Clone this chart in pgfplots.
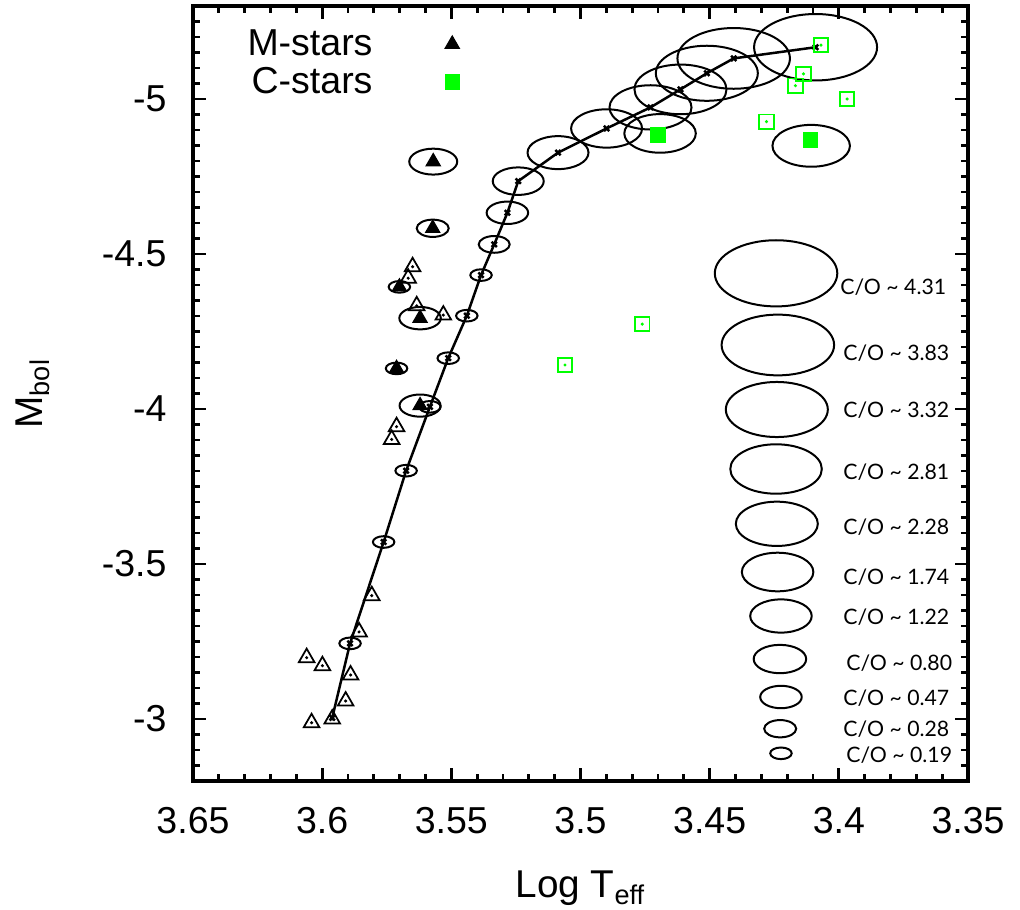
\documentclass[border=0pt]{standalone}
\usepackage{fontspec}
\setmainfont{Liberation Sans}
\newfontfamily\gill{Lato}
\usepackage{pgfplots}
\usepackage{pgfplotstable}
\pgfplotsset{compat=1.18}
\usetikzlibrary{calc}

\pgfdeclareplotmark{ellip}{%
  \pgfpathellipse{\pgfpointorigin}{\pgfqpoint{\pgfplotmarksize}{0pt}}{\pgfqpoint{0pt}{0.54\pgfplotmarksize}}%
  \pgfusepathqstroke}

% evolutionary track
\pgfplotstableread{
x y
3.5961 -3.004
3.5892 -3.244
3.5762 -3.571
3.5675 -3.801
3.5583 -4.007
3.5512 -4.164
3.5440 -4.301
3.5385 -4.432
3.5334 -4.531
3.5283 -4.633
3.5241 -4.735
3.5087 -4.827
3.4899 -4.905
3.4729 -4.973
3.4613 -5.031
3.4511 -5.083
3.4407 -5.131
3.4090 -5.167
}\track

% C/O ellipses along the track (s = half width in pt)
\pgfplotstableread{
x y s
3.5892 -3.244 4.3
3.5762 -3.571 4.3
3.5675 -3.801 4.3
3.5583 -4.007 4.3
3.5512 -4.164 4.3
3.5440 -4.301 4.3
3.5385 -4.432 4.3
3.5334 -4.531 6.2
3.5283 -4.633 8.3
3.5241 -4.735 10.2
3.5087 -4.827 12.2
3.4899 -4.905 14.2
3.4729 -4.973 16.4
3.4613 -5.031 18.4
3.4511 -5.083 20.4
3.4407 -5.131 22.5
3.4090 -5.167 24.6
}\trackell

% C/O ellipses around M-stars and C-stars
\pgfplotstableread{
x y s
3.5570 -4.798 9.6
3.5572 -4.583 6.4
3.5701 -4.394 4.3
3.5621 -4.293 8.3
3.5712 -4.131 4.3
3.5621 -4.011 8.2
3.4692 -4.889 14.3
3.4107 -4.849 15.5
}\starell

% size key ellipses
\pgfplotstableread{
x y s
3.4243 -4.4377 24.5
3.4236 -4.2065 22.5
3.4240 -3.9984 20.4
3.4243 -3.8065 18.3
3.4240 -3.6297 16.4
3.4237 -3.4742 14.3
3.4224 -3.3323 12.3
3.4228 -3.1935 10.5
3.4224 -3.0710 8.3
3.4227 -2.9687 6.4
3.4224 -2.8894 4.3
}\keyell

% M-stars with C/O (filled triangles)
\pgfplotstableread{
x y
3.5570 -4.798
3.5572 -4.583
3.5701 -4.394
3.5621 -4.293
3.5712 -4.131
3.5621 -4.011
}\mfill

% other M-stars (open triangles)
\pgfplotstableread{
x y
3.5650 -4.459
3.5667 -4.422
3.5634 -4.333
3.5531 -4.303
3.5712 -3.943
3.5731 -3.902
3.5808 -3.398
3.5857 -3.281
3.6060 -3.198
3.5999 -3.172
3.5890 -3.142
3.5909 -3.058
3.6041 -2.988
3.5961 -3.000
}\mopen

% C-stars with C/O (filled squares)
\pgfplotstableread{
x y
3.4700 -4.884
3.4109 -4.868
}\cfill

% other C-stars (open squares)
\pgfplotstableread{
x y
3.4069 -5.174
3.4137 -5.081
3.4168 -5.043
3.3968 -5.000
3.4280 -4.927
3.4761 -4.274
3.5060 -4.142
}\copen

\pgfplotsset{
  ellip plot/.style={only marks, mark=ellip, black, line width=0.8pt,
    scatter,
    visualization depends on={\thisrow{s}\as\msz},
    scatter/@pre marker code/.code={\scope[mark size=\msz pt]},
    scatter/@post marker code/.code={\endscope},
    forget plot},
  single mark legend/.style={legend image code/.code={\draw[##1] plot coordinates {(0pt,0pt)};}},
}

\begin{document}
\begin{tikzpicture}
\begin{axis}[
  scale only axis, width=310pt, height=310pt,
  xmin=3.35, xmax=3.65, ymin=-5.3, ymax=-2.8,
  x dir=reverse, y dir=reverse,
  xtick={3.35,3.4,3.45,3.5,3.55,3.6,3.65},
  ytick={-5,-4.5,-4,-3.5,-3},
  minor xtick={3.36,3.37,3.38,3.39,3.41,3.42,3.43,3.44,3.46,3.47,3.48,3.49,3.51,3.52,3.53,3.54,3.56,3.57,3.58,3.59,3.61,3.62,3.63,3.64},
  minor ytick={-5.25,-5.2,-5.15,-5.1,-5.05,-4.95,-4.9,-4.85,-4.8,-4.75,-4.7,-4.65,-4.6,-4.55,-4.45,-4.4,-4.35,-4.3,-4.25,-4.2,-4.15,-4.1,-4.05,-3.95,-3.9,-3.85,-3.8,-3.75,-3.7,-3.65,-3.6,-3.55,-3.45,-3.4,-3.35,-3.3,-3.25,-3.2,-3.15,-3.1,-3.05,-2.95,-2.9,-2.85},
  xtick pos=both, ytick pos=both,
  tick align=inside,
  major tick length=5.2pt, minor tick length=2.8pt,
  major tick style={draw=black, line width=1.1pt},
  minor tick style={draw=black, line width=1.1pt},
  axis line style={line width=1.6pt},
  /pgf/number format/assume math mode=true,
  ticklabel style={font=\fontsize{15}{18}\selectfont},
  xticklabel style={anchor=north, inner sep=0pt},
  xticklabel shift=10.4pt,
  yticklabel style={anchor=east, inner sep=0pt},
  yticklabel shift=10.4pt,
  xlabel={Log T\textsubscript{eff}},
  ylabel={M\textsubscript{bol}},
  label style={font=\fontsize{15.5}{18}\selectfont},
  xlabel style={at={(axis description cs:0.5,-0.150)}, anchor=base},
  ylabel style={at={(axis description cs:-0.1948,0.5)}, anchor=base},
  legend plot pos=right,
  legend cell align=right,
  legend style={at={(axis description cs:0.0697,0.9758)}, anchor=north west,
    draw=none, fill=none, inner sep=0pt, column sep=29pt, row sep=0pt,
    font=\fontsize{15}{18}\selectfont,
    nodes={inner sep=0pt, text height=12.1pt, text depth=3pt}},
]
% ellipses
\addplot[ellip plot] table[x=x,y=y] {\trackell};
\addplot[ellip plot] table[x=x,y=y] {\starell};
\addplot[ellip plot] table[x=x,y=y] {\keyell};
% track
\addplot[black, line width=1pt, mark=x, mark size=1.5pt, forget plot] table[x=x,y=y] {\track};
% open symbols
\addplot[only marks, mark=triangle, mark size=3.6pt, black, line width=0.7pt, forget plot] table[x=x,y=y] {\mopen};
\addplot[only marks, mark=*, mark size=0.4pt, black, forget plot] table[x=x,y=y] {\mopen};
\addplot[only marks, mark=square, mark size=2.9pt, green, line width=0.7pt, forget plot] table[x=x,y=y] {\copen};
\addplot[only marks, mark=*, mark size=0.4pt, green, forget plot] table[x=x,y=y] {\copen};
% filled symbols (legend)
\addplot[only marks, mark=triangle*, mark size=3.3pt, black, fill=black, single mark legend] table[x=x,y=y] {\mfill};
\addlegendentry{M-stars}
\addplot[only marks, mark=square*, mark size=2.9pt, draw=green, fill=green, single mark legend] table[x=x,y=y] {\cfill};
\addlegendentry{C-stars}
% size key labels
\begin{scope}[every node/.style={anchor=west, inner sep=0pt, font=\gill\fontsize{8.5}{10}\selectfont}]
\node at (axis cs:3.3996,-4.3945) {C/O \textasciitilde{} 4.31};
\node at (axis cs:3.3984,-4.1816) {C/O \textasciitilde{} 3.83};
\node at (axis cs:3.3984,-3.9968) {C/O \textasciitilde{} 3.32};
\node at (axis cs:3.3984,-3.7977) {C/O \textasciitilde{} 2.81};
\node at (axis cs:3.3984,-3.6184) {C/O \textasciitilde{} 2.28};
\node at (axis cs:3.3984,-3.4590) {C/O \textasciitilde{} 1.74};
\node at (axis cs:3.3984,-3.3300) {C/O \textasciitilde{} 1.22};
\node at (axis cs:3.3973,-3.1816) {C/O \textasciitilde{} 0.80};
\node at (axis cs:3.3984,-3.0668) {C/O \textasciitilde{} 0.47};
\node at (axis cs:3.3984,-2.9668) {C/O \textasciitilde{} 0.28};
\node at (axis cs:3.3973,-2.8839) {C/O \textasciitilde{} 0.19};
\end{scope}
\end{axis}
\pgfresetboundingbox
\path ($(current axis.south west)+(-77.2pt,-51.2pt)$) rectangle ($(current axis.north east)+(20.8pt,2.4pt)$);
\end{tikzpicture}
\end{document}
